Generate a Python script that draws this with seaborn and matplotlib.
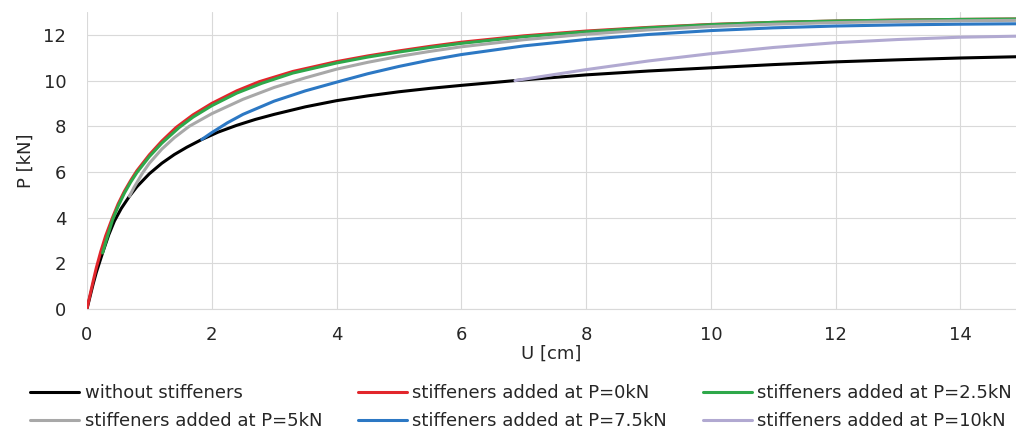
import numpy as np
import matplotlib
matplotlib.use("Agg")
import matplotlib.pyplot as plt
import seaborn as sns

# load-displacement curves
black_u = [0, 0.05, 0.1, 0.15, 0.25, 0.35, 0.44, 0.55, 0.68, 0.8, 1.0, 1.2, 1.4, 1.6, 1.84, 2.1, 2.4, 2.7, 3,
           3.5, 4, 4.5, 5, 5.5, 6, 6.86, 7.5, 8, 9, 10, 11, 12, 13, 14, 15]
black_p = [0, 0.55, 1.1, 1.6, 2.45, 3.25, 3.85, 4.4, 4.93, 5.35, 5.92, 6.38, 6.76, 7.08, 7.42, 7.74, 8.04, 8.3, 8.52,
           8.85, 9.12, 9.33, 9.51, 9.66, 9.79, 10.0, 10.14, 10.25, 10.42, 10.56, 10.7, 10.82, 10.91, 10.99, 11.05]

red_u = [0, 0.05, 0.1, 0.15, 0.22, 0.3, 0.41, 0.5, 0.6, 0.7, 0.8, 1.0, 1.2, 1.43, 1.7, 2, 2.4, 2.76, 3.3,
         4, 4.5, 5, 5.5, 6, 7, 8, 9, 10, 11, 12, 13, 14, 15]
red_p = [0, 0.62, 1.22, 1.8, 2.5, 3.2, 4.0, 4.6, 5.15, 5.62, 6.05, 6.75, 7.35, 7.95, 8.5, 9.0, 9.55, 9.95, 10.4,
         10.83, 11.08, 11.3, 11.5, 11.68, 11.96, 12.17, 12.33, 12.46, 12.55, 12.61, 12.65, 12.68, 12.7]

green_u = [0.25, 0.32, 0.41, 0.5, 0.6, 0.7, 0.8, 1.0, 1.2, 1.48, 1.7, 2, 2.4, 2.8, 3.3, 4, 4.5, 5, 5.5,
           6, 7, 8, 9, 10, 11, 12, 13, 14, 15]
green_p = [2.45, 3.1, 3.9, 4.5, 5.07, 5.55, 5.97, 6.67, 7.26, 7.95, 8.4, 8.9, 9.45, 9.88, 10.33, 10.77, 11.03, 11.25, 11.45,
           11.63, 11.92, 12.14, 12.31, 12.45, 12.55, 12.61, 12.65, 12.68, 12.7]

grey_u = [0.68, 0.75, 0.89, 1.0, 1.2, 1.4, 1.64, 2, 2.5, 3, 3.5, 4, 4.5, 5, 5.5, 6, 7, 8, 9, 10, 11, 12, 13, 14, 15]
grey_p = [4.93, 5.3, 5.95, 6.38, 7.0, 7.5, 8.0, 8.55, 9.18, 9.7, 10.12, 10.5, 10.8, 11.06, 11.28, 11.48, 11.79, 12.03,
          12.22, 12.37, 12.47, 12.54, 12.59, 12.62, 12.64]

blue_u = [1.84, 2, 2.25, 2.5, 3, 3.5, 4, 4.5, 5, 5.5, 6, 7, 8, 9, 10, 11, 12, 13, 14, 15]
blue_p = [7.42, 7.72, 8.15, 8.52, 9.1, 9.55, 9.93, 10.3, 10.62, 10.9, 11.14, 11.52, 11.8, 12.02, 12.19, 12.31, 12.39,
          12.44, 12.47, 12.49]

purple_u = [6.86, 7.5, 8, 9, 10, 11, 12, 13, 14, 15]
purple_p = [10.0, 10.27, 10.48, 10.86, 11.18, 11.45, 11.66, 11.8, 11.9, 11.95]

labels = ["without stiffeners", "stiffeners added at P=0kN", "stiffeners added at P=2.5kN",
          "stiffeners added at P=5kN", "stiffeners added at P=7.5kN", "stiffeners added at P=10kN"]
colors = ["#000000", "#E2262C", "#2EA84A", "#A8A8A8", "#2C78C4", "#B1A9D1"]

sns.set_style("whitegrid", {"grid.color": "#D9D9D9", "axes.edgecolor": "#D9D9D9"})
plt.rcParams['font.family'] = ['DejaVu Sans']

fig = plt.figure(figsize=(10.16, 4.32), dpi=100)
ax = fig.add_axes([0.0856, 0.285, 0.9144, 0.687])

series = [(black_u, black_p), (red_u, red_p), (green_u, green_p),
          (grey_u, grey_p), (blue_u, blue_p), (purple_u, purple_p)]
lines = []
for (u, p), lab, col in zip(series, labels, colors):
    sns.lineplot(x=u, y=p, sort=False, estimator=None, color=col, lw=2.2, ax=ax, label=lab)
    lines.append(ax.get_lines()[-1])

ax.set_xlim(0, 14.89)
ax.set_ylim(0, 13.0)
ax.set_xticks(range(0, 15, 2))
ax.set_yticks(range(0, 13, 2))
ax.tick_params(axis='both', labelsize=13, length=0)
ax.tick_params(axis='x', pad=12)
ax.tick_params(axis='y', pad=15)
for s in ['top', 'right', 'left']:
    ax.spines[s].set_visible(False)
ax.spines['bottom'].set_color('#D9D9D9')
ax.set_xlabel('U [cm]', fontsize=13, labelpad=1)
ax.set_ylabel('P [kN]', fontsize=13, labelpad=6)

# column-major ordering so rows read: black/red/green, grey/blue/purple
order = [0, 3, 1, 4, 2, 5]
ax.get_legend().remove()
fig.legend([lines[i] for i in order], [labels[i] for i in order], ncol=3,
           loc='lower left', bbox_to_anchor=(0.014, -0.033), frameon=False,
           fontsize=13, handlelength=2.7, handletextpad=0.3, columnspacing=2.0,
           labelspacing=0.55)

plt.savefig('out.png', dpi=100)
